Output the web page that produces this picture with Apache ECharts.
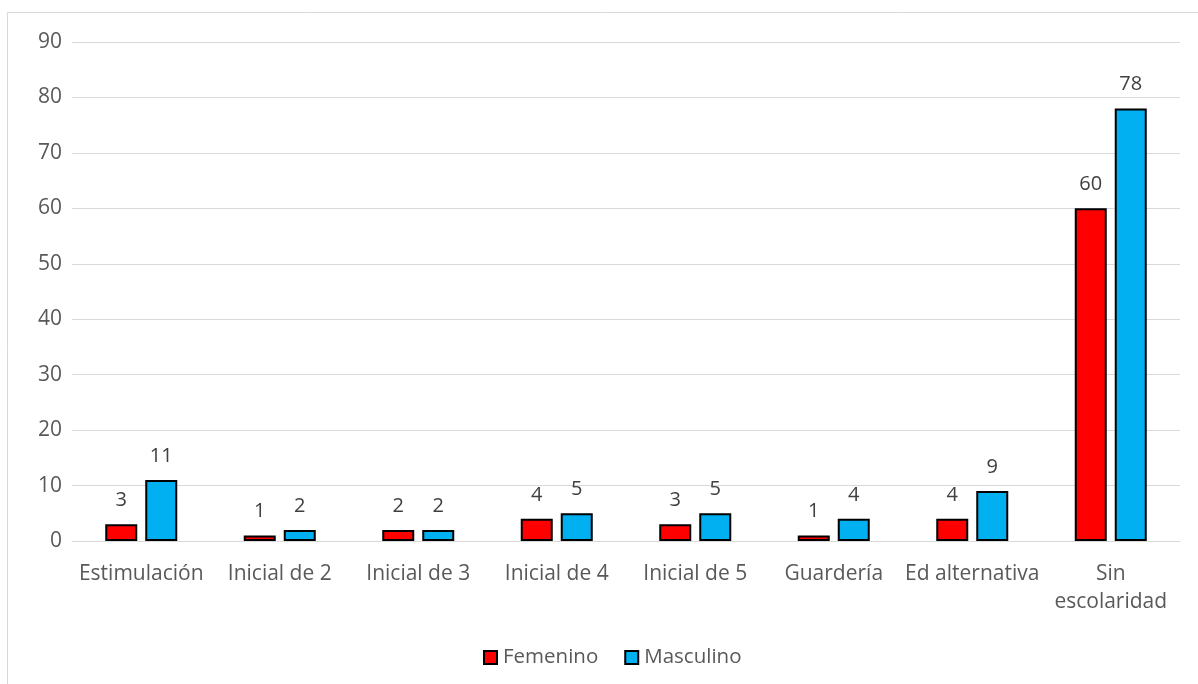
<!DOCTYPE html>
<html>
<head>
<meta charset="utf-8">
<script src="https://cdn.jsdelivr.net/npm/echarts@6/dist/echarts.min.js"></script>
<style>
  html, body { margin: 0; padding: 0; background: #ffffff; }
  #chart { width: 1198px; height: 684px; }
</style>
</head>
<body>
<div id="chart"></div>
<script>
const categories = ['Estimulación', 'Inicial de 2', 'Inicial de 3', 'Inicial de 4', 'Inicial de 5', 'Guardería', 'Ed alternativa', 'Sin\nescolaridad'];
const femenino = [3, 1, 2, 4, 3, 1, 4, 60];
const masculino = [11, 2, 2, 5, 5, 4, 9, 78];
const yTicks = { min: 0, max: 90, interval: 10 };

const FONT = '"Open Sans", "Noto Sans", sans-serif';
const chart = echarts.init(document.getElementById('chart'));

function barSeries(name, values, color) {
  return {
    name: name,
    type: 'bar',
    data: values,
    barWidth: 32,
    barGap: '25%',
    itemStyle: { color: color, borderColor: '#000000', borderWidth: 2 },
    label: {
      show: true,
      position: 'top',
      distance: 14,
      color: '#404040',
      fontFamily: FONT,
      fontSize: 20
    }
  };
}

chart.setOption({
  animation: false,
  backgroundColor: '#ffffff',
  graphic: [{
    type: 'rect',
    shape: { x: 7.5, y: 12.5, width: 1300, height: 800 },
    style: { fill: 'none', stroke: '#d9d9d9', lineWidth: 1 },
    silent: true
  }],
  grid: { left: 72, right: 18, top: 42, bottom: 143 },
  legend: {
    data: ['Femenino', 'Masculino'],
    left: 478,
    top: 642,
    icon: 'rect',
    itemWidth: 13,
    itemHeight: 13,
    itemGap: 26,
    itemStyle: { borderColor: '#000000', borderWidth: 2 },
    textStyle: { color: '#595959', fontFamily: FONT, fontSize: 20.5, padding: [0, 0, 0, 1] }
  },
  xAxis: {
    type: 'category',
    data: categories,
    axisLine: { lineStyle: { color: '#d9d9d9', width: 1 } },
    axisTick: { show: false },
    axisLabel: {
      interval: 0,
      margin: 19,
      color: '#595959',
      fontFamily: FONT,
      fontSize: 21,
      lineHeight: 28
    }
  },
  yAxis: {
    type: 'value',
    min: yTicks.min,
    max: yTicks.max,
    interval: yTicks.interval,
    axisLine: { show: false },
    axisTick: { show: false },
    splitLine: { lineStyle: { color: '#d9d9d9', width: 1 } },
    axisLabel: { margin: 10, color: '#595959', fontFamily: FONT, fontSize: 21 }
  },
  series: [
    barSeries('Femenino', femenino, '#ff0000'),
    barSeries('Masculino', masculino, '#00b0f0')
  ]
});
</script>
</body>
</html>
